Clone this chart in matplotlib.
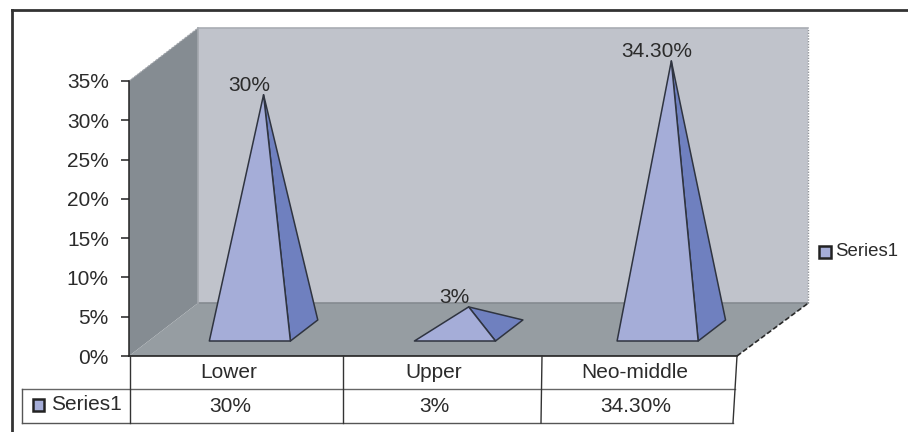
import matplotlib
matplotlib.use("Agg")
import matplotlib.pyplot as plt
from matplotlib.patches import Polygon, Rectangle
from matplotlib.lines import Line2D

plt.rcParams["font.family"] = ["Liberation Sans", "DejaVu Sans"]

categories = ["Lower", "Upper", "Neo-middle"]
values = [30, 3, 34.3]
value_labels = ["30%", "3%", "34.30%"]
series_name = "Series1"
y_ticks = [0, 5, 10, 15, 20, 25, 30, 35]

W, H = 908, 432
TEXT = "#2b2b2b"
EDGE = "#2f3440"
FS = 15
FS_LEGEND = 13.4

fig = plt.figure(figsize=(W / 100, H / 100), dpi=100, facecolor="white")


def px(x, y):
    """Figure fraction for a pixel position measured from the top left."""
    return x / W, 1 - y / H


# The axes span the front plane of the 3D box.
L, R, T, B = 129, 737, 81, 356
ax = fig.add_axes([L / W, 1 - B / H, (R - L) / W, (B - T) / H])
ax.set_xlim(0, 3)
ax.set_ylim(0, 35)
ax.patch.set_visible(False)
for side in ("top", "right", "bottom"):
    ax.spines[side].set_visible(False)
ax.spines["left"].set_linewidth(1.1)
ax.spines["left"].set_color("#222222")
ax.spines["left"].set_zorder(8)
ax.set_xticks([])
ax.set_yticks(y_ticks)
ax.set_yticklabels([f"{t}%" for t in y_ticks], fontsize=FS, color=TEXT)
ax.tick_params(axis="y", length=6, width=1.1, color="#222222", pad=8.5)

# Oblique projection: full box depth in data units.
DX = 69 / ((R - L) / 3)
DY = 53 / ((B - T) / 35)
BACK_RIGHT = 3.012


def proj(cat, depth, val):
    return cat + depth * DX, val + depth * DY


def face(points, color, z, ec="none", lw=0.0):
    ax.add_patch(Polygon(points, closed=True, facecolor=color, edgecolor=ec,
                         linewidth=lw, clip_on=False, zorder=z, joinstyle="round"))


top = 35
# Walls and floor
face([proj(0, 1, 0), proj(BACK_RIGHT, 1, 0), proj(BACK_RIGHT, 1, top), proj(0, 1, top)], "#c0c3cb", 1)
face([proj(0, 0, 0), proj(0, 1, 0), proj(0, 1, top), proj(0, 0, top)], "#858c92", 2)
face([proj(0, 0, 0), proj(3, 0, 0), proj(BACK_RIGHT, 1, 0), proj(0, 1, 0)], "#969da2", 2)

# Box edges
for a, b, c, ls, lw in [
    (proj(0, 1, 0), proj(BACK_RIGHT, 1, 0), "#858a90", "-", 1.2),
    (proj(0, 1, 0), proj(0, 1, top), "#a4a8ae", "-", 1.2),
    (proj(0, 1, top), proj(BACK_RIGHT, 1, top), "#a9adb3", "-", 1.2),
    (proj(BACK_RIGHT, 1, 0), proj(BACK_RIGHT, 1, top), "#8f9297", (0, (1, 1)), 1.0),
    (proj(3, 0, 0), proj(BACK_RIGHT, 1, 0), "#2a2a2a", (0, (3, 1.5)), 1.2),
    (proj(0, 0, top), proj(0, 1, top), "#a4a8ae", (0, (2, 1)), 0.8),
]:
    ax.add_line(Line2D([a[0], b[0]], [a[1], b[1]], color=c, linestyle=ls,
                       linewidth=lw, clip_on=False, zorder=3))

# Pyramids
HALF = 0.2
D0, D1 = 0.283, 0.68
slots = [0.5, 1.512, 2.512]
for c, v, lab in zip(slots, values, value_labels):
    fl = proj(c - HALF, D0, 0)
    fr = proj(c + HALF, D0, 0)
    br = proj(c + HALF, D1, 0)
    apex = proj(c, (D0 + D1) / 2, v)
    face([fr, br, apex], "#6f80bf", 5, EDGE, 1.1)
    face([fl, fr, apex], "#a5add8", 6, EDGE, 1.1)
    ax.annotate(lab, apex, xytext=(-10.5, 7), textcoords="offset points",
                ha="center", va="center", fontsize=FS, color=TEXT,
                annotation_clip=False, zorder=9)

# Data table
TABLE = "#333333"
y0, y1, y2 = 356, 389, 423
cols_top = [130, 343, 542, 737]
cols_bot = [130, 343, 541, 733]


def rule(x0, yy0, x1, yy1, color=TABLE, lw=1.0):
    xa, ya = px(x0, yy0)
    xb, yb = px(x1, yy1)
    fig.add_artist(Line2D([xa, xb], [ya, yb], color=color, linewidth=lw))


rule(129, y0, 737, y0, "#222222", 1.2)
rule(22, y1, 735, y1, "#666666", 1.0)
rule(22, y2, 733, y2, "#555555", 1.0)
rule(22, y1, 22, y2, "#555555", 1.0)
for xt, xb in zip(cols_top, cols_bot):
    rule(xt, y0, xb, y2)

centres = [229, 434, 635]
value_centres = [230, 434, 636]
for cx, name in zip(centres, categories):
    xf, yf = px(cx, 373)
    fig.text(xf, yf, name, ha="center", va="center", fontsize=FS, color=TEXT)
for cx, lab in zip(value_centres, value_labels):
    xf, yf = px(cx, 407)
    fig.text(xf, yf, lab, ha="center", va="center", fontsize=FS, color=TEXT)


def legend_key(x, y, size=11.5):
    xf, yf = px(x, y + size)
    fig.add_artist(Rectangle((xf, yf), size / W, size / H, transform=fig.transFigure,
                             facecolor="#a5add8", edgecolor="#222222", linewidth=1.8))


# Legend key inside the table and the standalone legend
legend_key(32.5, 399)
xf, yf = px(51, 404)
fig.text(xf, yf, series_name, ha="left", va="center", fontsize=FS, color=TEXT)
legend_key(819, 246)
xf, yf = px(835, 251.5)
fig.text(xf, yf, series_name, ha="left", va="center", fontsize=FS_LEGEND, color=TEXT)

# Frame: only the top and left rules are present
rule(12, 10, W, 10, "#333333", 2.0)
rule(12, 10, 12, H, "#333333", 2.0)

fig.savefig("out.png", dpi=100, facecolor="white")
